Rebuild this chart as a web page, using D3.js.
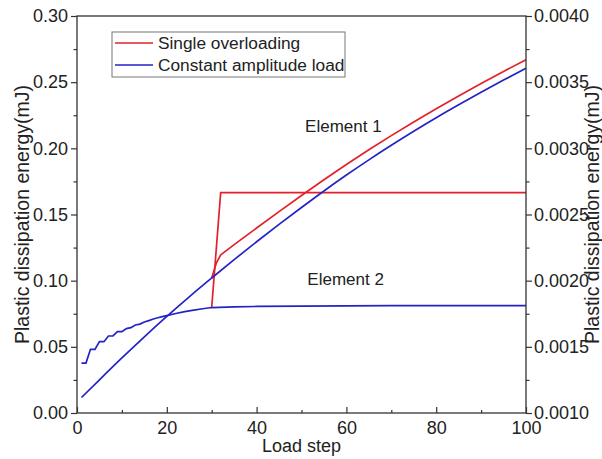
<!DOCTYPE html>
<html>
<head>
<meta charset="utf-8">
<script src="https://cdn.jsdelivr.net/npm/d3@7"></script>
<style>
  html, body { margin: 0; padding: 0; background: #fff; }
  svg { display: block; }
  text { font-family: Arial, "Liberation Sans", sans-serif; fill: #222; }
</style>
</head>
<body>
<div id="chart"></div>
<script>
// Element 1 (left axis, mJ)
const elem1ConstSteps = [1, 5, 10, 15, 20, 25, 30, 35, 40, 45, 50, 55, 60, 65, 70, 75, 80, 85, 90, 95, 100];
const elem1ConstVals  = [0.0117, 0.0251, 0.0416, 0.0576, 0.0730, 0.0878, 0.1020, 0.1159, 0.1294, 0.1425, 0.1553,
                         0.1678, 0.1798, 0.1913, 0.2023, 0.2129, 0.2231, 0.2329, 0.2424, 0.2516, 0.2605];
const elem1OverSteps = [30, 31, 32, 35, 40, 45, 50, 55, 60, 65, 70, 75, 80, 85, 90, 95, 100];
const elem1OverVals  = [0.1020, 0.1130, 0.1195, 0.1272, 0.1398, 0.1522, 0.1644, 0.1763, 0.1878, 0.1989, 0.2096,
                        0.2199, 0.2299, 0.2396, 0.2490, 0.2581, 0.2670];

// Element 2 (right axis, mJ)
const elem2ConstSteps = [1, 2, 3, 4, 5, 6, 7, 8, 9, 10, 11, 12, 13, 14, 15, 16, 17, 18, 19, 20,
                         22, 24, 26, 28, 30, 35, 40, 50, 60, 70, 80, 90, 100];
const elem2ConstVals  = [0.001377, 0.001377, 0.001481, 0.001481, 0.001539, 0.001539, 0.001582, 0.001582,
                         0.001615, 0.001615, 0.001638, 0.001645, 0.001665, 0.001672, 0.001688, 0.001698,
                         0.001710, 0.001720, 0.001728, 0.001736, 0.001752, 0.001766, 0.001778, 0.001788,
                         0.001797, 0.001802, 0.001805, 0.001808, 0.001810, 0.001811, 0.001812, 0.001812, 0.001812];
const elem2OverSteps = [30, 32, 100];
const elem2OverVals  = [0.001797, 0.002665, 0.002665];

// Axes
const xTicks = [0, 20, 40, 60, 80, 100];
const leftTicks = [0.00, 0.05, 0.10, 0.15, 0.20, 0.25, 0.30];
const rightTicks = [0.0010, 0.0015, 0.0020, 0.0025, 0.0030, 0.0035, 0.0040];
const seriesNames = ["Single overloading", "Constant amplitude load"];
const seriesColors = ["#e3212a", "#2323c6"];
const yTitle = "Plastic dissipation energy(mJ)";
const xTitle = "Load step";

const W = 602, H = 459;
const m = { left: 77, right: 76, top: 16, bottom: 46 };
const pw = W - m.left - m.right, ph = H - m.top - m.bottom;

const svg = d3.select("#chart").append("svg").attr("width", W).attr("height", H);
const g = svg.append("g").attr("transform", `translate(${m.left},${m.top})`);

const x = d3.scaleLinear().domain([0, 100]).range([0, pw]);
const yL = d3.scaleLinear().domain([0, 0.30]).range([ph, 0]);
const yR = d3.scaleLinear().domain([0.0010, 0.0040]).range([ph, 0]);

const zip = (a, b) => a.map((v, i) => [v, b[i]]);
const smoothL = d3.line().x(d => x(d[0])).y(d => yL(d[1])).curve(d3.curveMonotoneX);
const lineL = d3.line().x(d => x(d[0])).y(d => yL(d[1]));
const lineR = d3.line().x(d => x(d[0])).y(d => yR(d[1]));

// Curves: single overloading underneath, constant amplitude on top
const lw = 1.7;
g.append("path").attr("d", lineR(zip(elem2OverSteps, elem2OverVals)))
  .attr("fill", "none").attr("stroke", seriesColors[0]).attr("stroke-width", lw);
g.append("path").attr("d", lineL(zip(elem1OverSteps, elem1OverVals)))
  .attr("fill", "none").attr("stroke", seriesColors[0]).attr("stroke-width", lw)
  .attr("stroke-linejoin", "round");
g.append("path").attr("d", lineR(zip(elem2ConstSteps, elem2ConstVals)))
  .attr("fill", "none").attr("stroke", seriesColors[1]).attr("stroke-width", lw);
g.append("path").attr("d", smoothL(zip(elem1ConstSteps, elem1ConstVals)))
  .attr("fill", "none").attr("stroke", seriesColors[1]).attr("stroke-width", lw);

// Frame
const axisColor = "#333";
g.append("rect").attr("x", 0).attr("y", 0).attr("width", pw).attr("height", ph)
  .attr("fill", "none").attr("stroke", axisColor).attr("stroke-width", 1.3);

function styleAxis(sel) {
  sel.select(".domain").remove();
  sel.selectAll(".tick line").attr("stroke", axisColor).attr("stroke-width", 1.2);
  sel.selectAll(".tick text").attr("fill", "#222").style("font-size", "18px")
    .style("font-family", "Arial, 'Liberation Sans', sans-serif");
}

// Minor ticks
const xMinor = d3.range(10, 100, 20);
const leftMinor = d3.range(0.025, 0.30, 0.05);
const rightMinor = d3.range(0.00125, 0.0040, 0.0005);

g.append("g").attr("transform", `translate(0,${ph})`)
  .call(d3.axisBottom(x).tickValues(xMinor).tickSize(-3).tickFormat(""))
  .call(styleAxis);
g.append("g").attr("transform", `translate(0,${ph})`)
  .call(d3.axisBottom(x).tickValues(xTicks).tickSize(-6).tickPadding(8).tickFormat(d3.format("d")))
  .call(styleAxis);

g.append("g").call(d3.axisLeft(yL).tickValues(leftMinor).tickSize(3.5).tickFormat("")).call(styleAxis);
g.append("g").call(d3.axisLeft(yL).tickValues(leftTicks).tickSize(6).tickPadding(3).tickFormat(d3.format(".2f")))
  .call(styleAxis);

g.append("g").attr("transform", `translate(${pw},0)`)
  .call(d3.axisRight(yR).tickValues(rightMinor).tickSize(3.5).tickFormat("")).call(styleAxis);
g.append("g").attr("transform", `translate(${pw},0)`)
  .call(d3.axisRight(yR).tickValues(rightTicks).tickSize(6).tickPadding(2).tickFormat(d3.format(".4f")))
  .call(styleAxis);

// Axis titles
svg.append("text").attr("transform", `translate(29,${m.top + ph / 2}) rotate(-90)`)
  .attr("text-anchor", "middle").style("font-size", "19.5px").text(yTitle);
svg.append("text").attr("transform", `translate(599,${m.top + ph / 2}) rotate(-90)`)
  .attr("text-anchor", "middle").style("font-size", "19.5px").text(yTitle);
svg.append("text").attr("x", m.left + pw / 2).attr("y", 452)
  .attr("text-anchor", "middle").style("font-size", "18px").text(xTitle);

// Annotations
g.append("text").attr("x", x(50.8)).attr("y", yL(0.212)).style("font-size", "17px").text("Element 1");
g.append("text").attr("x", x(51.3)).attr("y", yL(0.097)).style("font-size", "17px").text("Element 2");

// Legend
const leg = svg.append("g").attr("transform", "translate(112,32)");
leg.append("rect").attr("width", 233).attr("height", 45)
  .attr("fill", "#fff").attr("stroke", "#777").attr("stroke-width", 1);
seriesNames.forEach((name, i) => {
  const yy = 11 + i * 22;
  leg.append("line").attr("x1", 3).attr("x2", 41).attr("y1", yy).attr("y2", yy)
    .attr("stroke", seriesColors[i]).attr("stroke-width", lw);
  leg.append("text").attr("x", 46).attr("y", yy + 6).style("font-size", "17.3px").text(name);
});
</script>
</body>
</html>
